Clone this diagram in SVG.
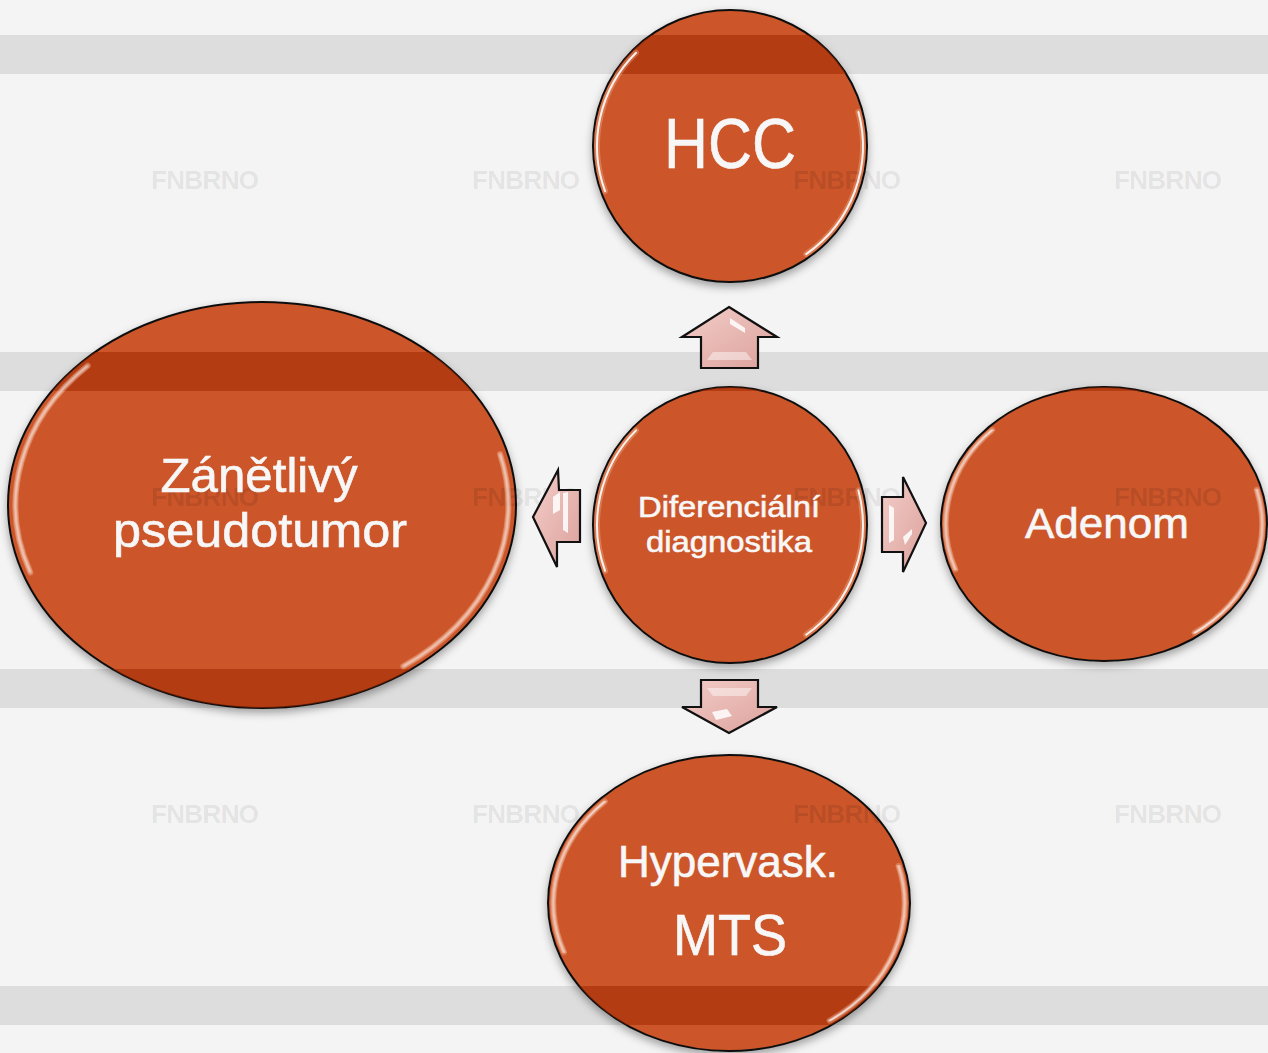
<svg xmlns="http://www.w3.org/2000/svg" xmlns:xlink="http://www.w3.org/1999/xlink" width="1268" height="1053" viewBox="0 0 1268 1053">
<style>
.band{fill:#dddddd}
.tint{fill:#a02800;fill-opacity:0.55}
.wm{font-family:"Liberation Sans",Arial,sans-serif;font-weight:bold;font-size:26px;text-anchor:middle}
.node{fill:#cc5629;stroke:#111111;stroke-width:2;filter:url(#shadow)}
.lbl{font-family:"Liberation Sans",Arial,sans-serif;fill:#f7f7f7;stroke:#f7f7f7;stroke-width:0.6;text-anchor:middle}
.hl{fill:none;stroke:#ffffff;stroke-linecap:round;vector-effect:non-scaling-stroke}
.hl1{stroke-width:6;stroke-opacity:0.3;stroke:#ffc9ad}
.hl2{stroke-width:2;stroke-opacity:0.9}
.arrow{fill:url(#pink);stroke:#111;stroke-width:2.2;stroke-linejoin:miter}
.shine{fill:#ffffff;fill-opacity:0.85}
.bevel{fill:#ffffff;fill-opacity:0.45}
</style>
<defs>
<filter id="shadow" x="-10%" y="-10%" width="120%" height="125%">
<feDropShadow dx="0" dy="4" stdDeviation="4" flood-color="#000" flood-opacity="0.35"/>
</filter>
<filter id="soft" x="-20%" y="-20%" width="140%" height="140%">
<feGaussianBlur stdDeviation="0.005"/>
</filter>
<linearGradient id="pink" x1="0" y1="0" x2="1" y2="1">
<stop offset="0" stop-color="#f3cdc9"/>
<stop offset="1" stop-color="#dca19b"/>
</linearGradient>
<g id="wmt">
<text class="wm" x="205" y="189" textLength="108">FNBRNO</text>
<text class="wm" x="526" y="189" textLength="108">FNBRNO</text>
<text class="wm" x="847" y="189" textLength="108">FNBRNO</text>
<text class="wm" x="1168" y="189" textLength="108">FNBRNO</text>
<text class="wm" x="205" y="506" textLength="108">FNBRNO</text>
<text class="wm" x="526" y="506" textLength="108">FNBRNO</text>
<text class="wm" x="847" y="506" textLength="108">FNBRNO</text>
<text class="wm" x="1168" y="506" textLength="108">FNBRNO</text>
<text class="wm" x="205" y="823" textLength="108">FNBRNO</text>
<text class="wm" x="526" y="823" textLength="108">FNBRNO</text>
<text class="wm" x="847" y="823" textLength="108">FNBRNO</text>
<text class="wm" x="1168" y="823" textLength="108">FNBRNO</text>
</g>
<g id="ov">
<rect class="tint" x="0" y="35" width="1268" height="39"/>
<rect class="tint" x="0" y="352" width="1268" height="39"/>
<rect class="tint" x="0" y="669" width="1268" height="39"/>
<rect class="tint" x="0" y="986" width="1268" height="39"/>
<use xlink:href="#wmt" fill="#000" fill-opacity="0.1"/>
</g>
<g id="gloss">
<path class="hl hl1" d="M-0.686,-0.686 A0.97,0.97 0 0 0 -0.912,0.332"/>
<path class="hl hl1" d="M0.937,-0.251 A0.97,0.97 0 0 1 0.556,0.795"/>
<path class="hl hl2" d="M-0.686,-0.686 A0.97,0.97 0 0 0 -0.912,0.332" filter="url(#soft)"/>
<path class="hl hl2" d="M0.937,-0.251 A0.97,0.97 0 0 1 0.556,0.795" filter="url(#soft)"/>
</g>
<clipPath id="c-hcc"><ellipse cx="730" cy="146" rx="137" ry="136"/></clipPath>
<clipPath id="c-dd"><ellipse cx="730" cy="525" rx="137" ry="138"/></clipPath>
<clipPath id="c-ad"><ellipse cx="1104" cy="524" rx="163" ry="137"/></clipPath>
<clipPath id="c-zp"><ellipse cx="262" cy="505" rx="254" ry="203"/></clipPath>
<clipPath id="c-hm"><ellipse cx="729" cy="903" rx="181" ry="148"/></clipPath>
</defs>

<g id="background">
<rect x="0" y="0" width="1268" height="1053" fill="#f4f4f4"/>
<rect class="band" x="0" y="35" width="1268" height="39"/>
<rect class="band" x="0" y="352" width="1268" height="39"/>
<rect class="band" x="0" y="669" width="1268" height="39"/>
<rect class="band" x="0" y="986" width="1268" height="39"/>
<use xlink:href="#wmt" fill="#000" fill-opacity="0.08"/>
</g>

<g id="connectors">
<g id="arrow-up">
<path class="arrow" d="M729,307 L777,337 L758,337 L758,368 L701,368 L701,337 L682,337 Z"/>
<polygon class="shine" points="730,318 745,328 745,333 730,324"/>
<polygon class="bevel" points="707,360 752,360 746,352 713,352"/>
</g>
<g id="arrow-down">
<path class="arrow" d="M701,680 L758,680 L758,707 L777,707 L729,733 L682,707 L701,707 Z"/>
<polygon class="bevel" points="707,688 752,688 746,696 713,696"/>
<polygon class="shine" points="712,712 727,709 732,716 716,720"/>
</g>
<g id="arrow-left">
<path class="arrow" d="M533,517 L558,470 L559,490 L580,490 L580,542 L557,542 L557,567 Z"/>
<polygon class="shine" points="553,497 560,492 560,510 553,514"/>
<polygon class="shine" points="563,493 568,492 568,533 563,530"/>
</g>
<g id="arrow-right">
<path class="arrow" d="M882,497 L903,497 L903,477 L926,523 L903,572 L903,552 L882,552 Z"/>
<polygon class="shine" points="889,505 894,508 894,540 889,543"/>
<polygon class="shine" points="903,537 912,529 912,534 905,545"/>
</g>
</g>

<g id="node-hcc">
<ellipse class="node" cx="730" cy="146" rx="137" ry="136"/>
<use xlink:href="#ov" clip-path="url(#c-hcc)"/>
<use xlink:href="#gloss" transform="translate(730,146) scale(137,136)"/>
<text class="lbl" x="730" y="168" font-size="70" textLength="132" lengthAdjust="spacingAndGlyphs">HCC</text>
</g>

<g id="node-diferencialni">
<ellipse class="node" cx="730" cy="525" rx="137" ry="138"/>
<use xlink:href="#ov" clip-path="url(#c-dd)"/>
<use xlink:href="#gloss" transform="translate(730,525) scale(137,138)"/>
<text class="lbl" x="729" y="517" font-size="30" textLength="182" lengthAdjust="spacingAndGlyphs">Diferenciální</text>
<text class="lbl" x="729" y="552" font-size="30" textLength="166" lengthAdjust="spacingAndGlyphs">diagnostika</text>
</g>

<g id="node-adenom">
<ellipse class="node" cx="1104" cy="524" rx="163" ry="137"/>
<use xlink:href="#ov" clip-path="url(#c-ad)"/>
<use xlink:href="#gloss" transform="translate(1104,524) scale(163,137)"/>
<text class="lbl" x="1107" y="538" font-size="43" textLength="164" lengthAdjust="spacingAndGlyphs">Adenom</text>
</g>

<g id="node-pseudotumor">
<ellipse class="node" cx="262" cy="505" rx="254" ry="203"/>
<use xlink:href="#ov" clip-path="url(#c-zp)"/>
<use xlink:href="#gloss" transform="translate(262,505) scale(254,203)"/>
<text class="lbl" x="259" y="492" font-size="48" textLength="197" lengthAdjust="spacingAndGlyphs">Zánětlivý</text>
<text class="lbl" x="260" y="547" font-size="48" textLength="294" lengthAdjust="spacingAndGlyphs">pseudotumor</text>
</g>

<g id="node-mts">
<ellipse class="node" cx="729" cy="903" rx="181" ry="148"/>
<use xlink:href="#ov" clip-path="url(#c-hm)"/>
<use xlink:href="#gloss" transform="translate(729,903) scale(181,148)"/>
<text class="lbl" x="728" y="877" font-size="44" textLength="220" lengthAdjust="spacingAndGlyphs">Hypervask.</text>
<text class="lbl" x="730" y="955" font-size="58" textLength="114" lengthAdjust="spacingAndGlyphs">MTS</text>
</g>
</svg>
